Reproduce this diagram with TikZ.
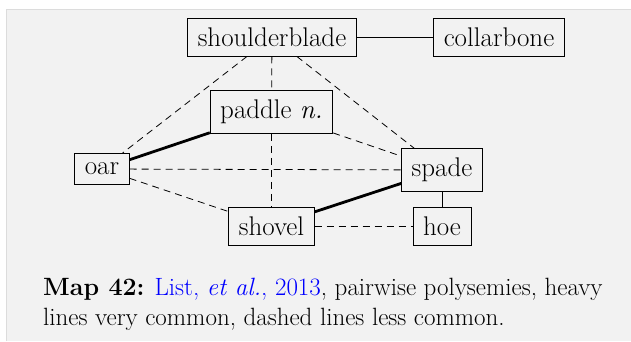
\documentclass[tikz,border=0pt]{standalone}
\usepackage{fontspec}
\usepackage{tikz}
\usetikzlibrary{positioning}
\definecolor{mapbg}{HTML}{F2F2F2}
\definecolor{mapframe}{HTML}{DCDCDC}
\definecolor{linkblue}{HTML}{0000FF}

\begin{document}
\begin{tikzpicture}[x=1pt,y=-1pt,
    word/.style={rectangle,draw,line width=0.8pt,inner xsep=10pt,inner ysep=9.5pt,font=\fontsize{27}{32}\selectfont},
    rare/.style={line width=0.8pt,dash pattern=on 7pt off 5pt},
    heavy/.style={line width=2.8pt},
    plain/.style={line width=0.8pt}]
\useasboundingbox (0,0) rectangle (631,341);
% background panel
\fill[mapbg] (6,9) rectangle (631,341);
\draw[mapframe,line width=1pt] (6,341) -- (6,9) -- (631,9);
% words
\node[word] (shoulder) at (272,37) {shoulderblade};
\node[word] (collar) at (499,37) {collarbone};
\node[word] (paddle) at (271.5,112) {paddle \textit{n.}};
\node[word] (oar) at (102,169) {oar};
\node[word] (spade) at (442,170) {spade};
\node[word] (shovel) at (271.5,226) {shovel};
\node[word] (hoe) at (442,226) {hoe};
% links
\draw[plain] (shoulder) -- (collar);
\draw[plain] (spade) -- (hoe);
\draw[heavy] (oar) -- (paddle);
\draw[heavy] (shovel) -- (spade);
\foreach \a/\b in {shoulder/oar,shoulder/paddle,shoulder/spade,paddle/spade,paddle/shovel,oar/spade,oar/shovel,shovel/hoe} {
    \draw[rare] (\a) -- (\b);
}
% caption
\node[anchor=base west,align=left,inner sep=0pt,font=\fontsize{25}{30}\selectfont] (caption) at (43,325)
    {\textbf{Map 42:} \textcolor{linkblue}{List, \textit{et al.}, 2013}, pairwise polysemies, heavy\\lines very common, dashed lines less common.};
\end{tikzpicture}
\end{document}
